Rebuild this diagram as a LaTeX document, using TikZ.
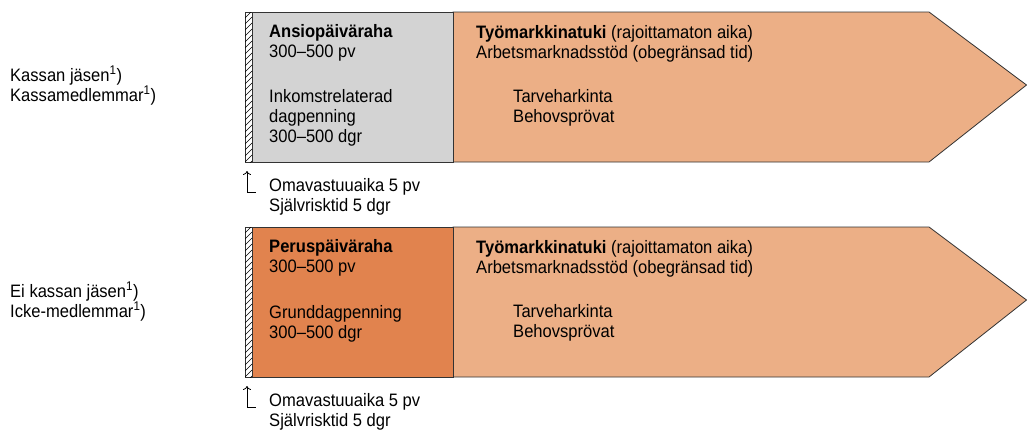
\documentclass[tikz,border=0pt]{standalone}
\usepackage{fontspec}
\setmainfont{Liberation Sans}[FakeStretch=0.92]
\usepackage{tikz}
\usetikzlibrary{arrows.meta}

\definecolor{ansiogray}{RGB}{211,211,211}
\definecolor{perusorange}{RGB}{225,131,78}
\definecolor{tyoorange}{RGB}{236,175,134}

\begin{document}
\begin{tikzpicture}[x=1pt,y=-1pt,
    txt/.style={anchor=base west,inner sep=0pt,align=left,
      font=\fontsize{18}{20}\selectfont},
    box/.style={draw=black!80,line width=0.8pt}]
  \useasboundingbox (0,0) rectangle (1027,432);

  % kassan jasen
  \node[txt] (jasen) at (10,101) {Kassan jäsen\textsuperscript{1})\\Kassamedlemmar\textsuperscript{1})};
  \draw[box,fill=tyoorange] (453,12) -- (929,12) -- (1026.5,85) -- (929,162) -- (453,162) -- cycle;
  \draw[box,fill=ansiogray] (252,12) rectangle (453,162);
  \draw[box] (245,12) rectangle (252,162);
  \begin{scope}
    \clip (245,12) rectangle (252,162);
    \foreach \y in {12,18,...,174}
      \draw[line width=0.5pt] (245,\y) -- (252,\y-7);
  \end{scope}
  \node[txt] (ansio) at (269,57) {\textbf{Ansiopäiväraha}\\300–500 pv};
  \node[txt] (inkomst) at (269,142) {Inkomstrelaterad\\dagpenning\\300–500 dgr};
  \node[txt] (tyo) at (476,58) {\textbf{Työmarkkinatuki} (rajoittamaton aika)\\Arbetsmarknadsstöd (obegränsad tid)};
  \node[txt] (tarve) at (513,122) {Tarveharkinta\\Behovsprövat};
  \node[txt] (oma) at (269,211) {Omavastuuaika 5 pv\\Självrisktid 5 dgr};
  \coordinate (omatip) at (247,171);
  \draw[-{To[length=4pt,width=8pt]},line width=0.8pt] (247,192) -- (omatip);
  \draw[line width=0.8pt] (247,192) -- (256,192);

  % ei kassan jasen
  \begin{scope}[yshift=-215pt]
  \node[txt] (eijasen) at (10,102) {Ei kassan jäsen\textsuperscript{1})\\Icke-medlemmar\textsuperscript{1})};
  \draw[box,fill=tyoorange] (453,12) -- (929,12) -- (1026.5,85) -- (929,162) -- (453,162) -- cycle;
  \draw[box,fill=perusorange] (252,12) rectangle (453,162);
  \draw[box] (245,12) rectangle (252,162);
  \begin{scope}
    \clip (245,12) rectangle (252,162);
    \foreach \y in {12,18,...,174}
      \draw[line width=0.5pt] (245,\y) -- (252,\y-7);
  \end{scope}
  \node[txt] (perus) at (269,57) {\textbf{Peruspäiväraha}\\300–500 pv};
  \node[txt] (grund) at (269,123) {Grunddagpenning\\300–500 dgr};
  \node[txt] (tyo2) at (476,58) {\textbf{Työmarkkinatuki} (rajoittamaton aika)\\Arbetsmarknadsstöd (obegränsad tid)};
  \node[txt] (tarve2) at (513,122) {Tarveharkinta\\Behovsprövat};
  \node[txt] (oma2) at (269,211) {Omavastuuaika 5 pv\\Självrisktid 5 dgr};
  \coordinate (omatip2) at (247,171);
  \draw[-{To[length=4pt,width=8pt]},line width=0.8pt] (247,192) -- (omatip2);
  \draw[line width=0.8pt] (247,192) -- (256,192);
  \end{scope}
\end{tikzpicture}
\end{document}
